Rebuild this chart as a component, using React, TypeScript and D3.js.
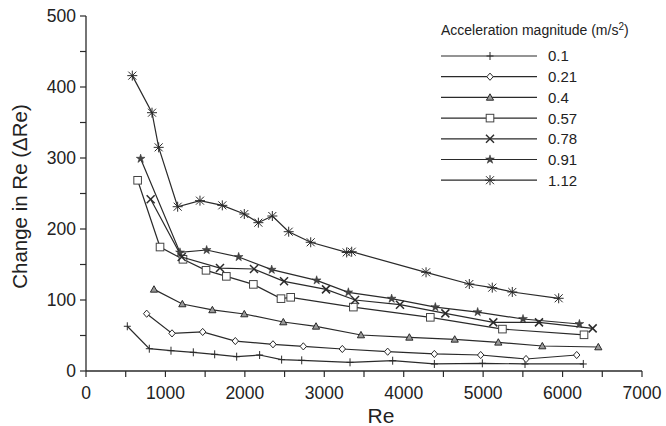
import React from "react";
import * as d3 from "d3";

const seriesNames = ["0.1", "0.21", "0.4", "0.57", "0.78", "0.91", "1.12"];
const markers = ["plus", "diamond", "triangle", "square", "cross", "star", "asterisk"];

const s01x = [520, 797, 1070, 1351, 1620, 1897, 2186, 2463, 2716, 3324, 3861, 4386, 4990, 5527, 6261];
const s01y = [63, 31.4, 28.6, 26.3, 23.5, 20.2, 22.5, 16, 15, 12.2, 14.5, 9.9, 10.8, 9.9, 9.9];
const s021x = [764, 1083, 1469, 1880, 2354, 2736, 3227, 3798, 4386, 4969, 5540, 6178];
const s021y = [80.7, 53, 55, 42.2, 37.6, 34.7, 31, 27.2, 24, 22.5, 16.9, 22.5];
const s04x = [856, 1213, 1591, 1993, 2484, 2896, 3462, 4071, 4642, 5191, 5745, 6450];
const s04y = [115, 94.4, 86, 80.3, 69, 62.9, 50.7, 47.4, 44.6, 40.4, 35.2, 33.8];
const s057x = [650, 932, 1221, 1511, 1767, 2107, 2455, 2577, 3366, 4335, 5243, 6270];
const s057y = [268.6, 174.6, 157.3, 141.8, 133.3, 122, 101.9, 103.8, 90, 75.6, 59, 51];
const s078x = [814, 1205, 1687, 2115, 2493, 3022, 3387, 3953, 4524, 5128, 5703, 6379];
const s078y = [241.8, 160.6, 145, 143.7, 126.3, 115, 100, 93.4, 81.2, 68.5, 68.5, 60];
const s091x = [688, 1183, 1519, 1922, 2338, 2904, 3303, 3848, 4398, 4931, 5502, 6212];
const s091y = [299, 167, 170.4, 160.6, 142.7, 127.7, 110.8, 101.9, 90, 83, 73.2, 66.2];
const s112x = [583, 831, 915, 1154, 1435, 1716, 1993, 2170, 2346, 2552, 2829, 3282, 3345, 4281, 4826, 5115, 5367, 5951];
const s112y = [416, 363.8, 315, 231.4, 239.9, 233.3, 221.1, 208.9, 218.3, 196.2, 181.3, 167, 168, 139, 122.5, 117.4, 111.3, 102.4];

const allX = [s01x, s021x, s04x, s057x, s078x, s091x, s112x];
const allY = [s01y, s021y, s04y, s057y, s078y, s091y, s112y];

const xTicks = [0, 1000, 2000, 3000, 4000, 5000, 6000, 7000];
const yTicks = [0, 100, 200, 300, 400, 500];

const W = 666, H = 426;
const left = 86, right = 642, top = 16, bottom = 371;
const INK = "#2a2a2a";

function Marker({ type, x, y }: { type: string; x: number; y: number }) {
  const sw = 1;
  switch (type) {
    case "plus":
      return <g stroke={INK} strokeWidth={sw}><line x1={x} y1={y - 4} x2={x} y2={y + 4} /><line x1={x - 3.5} y1={y} x2={x + 3.5} y2={y} /></g>;
    case "diamond":
      return <path d={`M${x},${y - 3.6}L${x + 3.2},${y}L${x},${y + 3.6}L${x - 3.2},${y}Z`} fill="white" stroke={INK} strokeWidth={sw} />;
    case "triangle":
      return <path d={`M${x},${y - 3.6}L${x + 3.6},${y + 2.8}L${x - 3.6},${y + 2.8}Z`} fill="#999" stroke={INK} strokeWidth={sw} />;
    case "square":
      return <rect x={x - 3.8} y={y - 3.8} width={7.6} height={7.6} fill="white" stroke="#444" strokeWidth={sw} />;
    case "cross":
      return <g stroke={INK} strokeWidth={1.5}><line x1={x - 4} y1={y - 4} x2={x + 4} y2={y + 4} /><line x1={x - 4} y1={y + 4} x2={x + 4} y2={y - 4} /></g>;
    case "star": {
      const sym = d3.symbol().type(d3.symbolStar).size(24)();
      return <path d={sym || ""} transform={`translate(${x},${y})`} fill="#444" stroke={INK} strokeWidth={0.5} />;
    }
    case "asterisk":
      return <g stroke={INK} strokeWidth={1}>
        <line x1={x - 4} y1={y - 4} x2={x + 4} y2={y + 4} />
        <line x1={x - 4} y1={y + 4} x2={x + 4} y2={y - 4} />
        <line x1={x} y1={y - 5} x2={x} y2={y + 5} />
        <line x1={x - 5} y1={y} x2={x + 5} y2={y} />
      </g>;
  }
  return null;
}

export default function App() {
  const xs = d3.scaleLinear().domain([0, 7000]).range([left, right]);
  const ys = d3.scaleLinear().domain([0, 500]).range([bottom, top]);
  const line = d3.line<[number, number]>().x(d => xs(d[0])).y(d => ys(d[1]));
  const xMinor = d3.range(0, 7001, 500);
  const yMinor = d3.range(0, 501, 50);
  const font = "Arial, 'Liberation Sans', sans-serif";
  const legX0 = 441, legX1 = 537, legY0 = 56, legDy = 20.7;

  return (
    <svg width={W} height={H} style={{ position: "absolute", left: 0, top: 0, background: "white" }} fontFamily={font}>
      <line x1={left} y1={top} x2={left} y2={bottom} stroke={INK} strokeWidth={1.3} />
      <line x1={left} y1={bottom} x2={right} y2={bottom} stroke={INK} strokeWidth={1.3} />
      {yMinor.map(t => <line key={"yt" + t} x1={left - 6} x2={left} y1={ys(t)} y2={ys(t)} stroke={INK} strokeWidth={1.2} />)}
      {xMinor.map(t => <line key={"xt" + t} x1={xs(t)} x2={xs(t)} y1={bottom} y2={bottom + 6} stroke={INK} strokeWidth={1.2} />)}
      {yTicks.map(t => <text key={"yl" + t} x={left - 10} y={ys(t)} dy="0.36em" textAnchor="end" fontSize={17.5} fill="#222">{t}</text>)}
      {xTicks.map(t => <text key={"xl" + t} x={xs(t)} y={bottom + 28} textAnchor="middle" fontSize={17.5} fill="#222">{t}</text>)}
      <text x={381} y={423} textAnchor="middle" fontSize={21} fill="#222">Re</text>
      <text transform={`translate(27,${(top + bottom) / 2 + 3}) rotate(-90)`} textAnchor="middle" fontSize={20.5} fill="#222">Change in Re (ΔRe)</text>

      {allX.map((sx, i) => {
        const pts: [number, number][] = sx.map((v, j) => [v, allY[i][j]]);
        return (
          <g key={"s" + i}>
            <path d={line(pts) || ""} fill="none" stroke={INK} strokeWidth={1.2} />
            {pts.map((p, j) => <Marker key={j} type={markers[i]} x={xs(p[0])} y={ys(p[1])} />)}
          </g>
        );
      })}

      <text x={441} y={35} fontSize={14} fill="#222">Acceleration magnitude (m/s<tspan dy={-5} fontSize={10}>2</tspan><tspan dy={5}>)</tspan></text>
      {seriesNames.map((n, i) => {
        const y = legY0 + i * legDy;
        return (
          <g key={"lg" + i}>
            <line x1={legX0} x2={legX1} y1={y} y2={y} stroke={INK} strokeWidth={1.2} />
            <Marker type={markers[i]} x={(legX0 + legX1) / 2 + 1} y={y} />
            <text x={548} y={y} dy="0.36em" fontSize={15} fill="#222">{n}</text>
          </g>
        );
      })}
    </svg>
  );
}
